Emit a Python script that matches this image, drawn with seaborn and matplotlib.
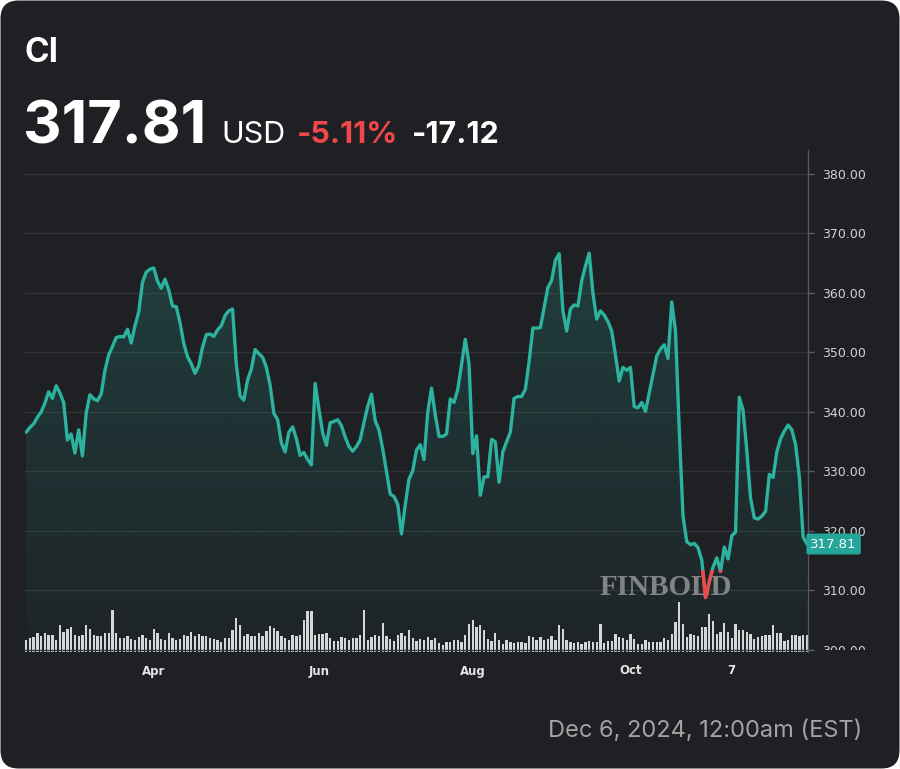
import numpy as np
import pandas as pd
import matplotlib
matplotlib.use("Agg")
import matplotlib.pyplot as plt
import seaborn as sns
from matplotlib.patches import FancyBboxPatch
from matplotlib.transforms import (IdentityTransform, blended_transform_factory,
                                   Bbox, offset_copy)

# ---------------- data ----------------
ticker = "CI"
last_price_text = "317.81"
currency = "USD"
change_pct = "-5.11%"
change_abs = "-17.12"
timestamp = "Dec 6, 2024, 12:00am (EST)"
watermark = "FINBOLD"

end_date = "2024-12-06"
holidays = ["2024-02-19", "2024-03-29", "2024-05-27", "2024-06-19",
            "2024-07-04", "2024-09-02", "2024-11-28"]

close = [
    336.6, 337.4, 338.0, 339.1, 340.0, 341.5, 343.4, 342.3, 344.4, 343.2,
    341.6, 335.3, 336.3, 333.1, 337.0, 332.6, 339.8, 342.9, 342.2, 341.9,
    343.0, 347.0, 349.6, 351.0, 352.5, 352.7, 352.6, 353.9, 351.6, 354.5,
    356.8, 361.8, 363.5, 364.0, 364.2, 362.0, 360.8, 362.3, 360.5, 357.8,
    357.7, 355.0, 351.5, 349.3, 348.1, 346.5, 347.8, 350.9, 353.0, 353.1,
    352.7, 353.8, 354.5, 356.2, 357.0, 357.3, 348.0, 342.7, 342.0, 345.4,
    347.2, 350.5, 349.8, 349.2, 347.5, 344.5, 339.8, 338.7, 334.8, 333.3,
    336.6, 337.5, 335.5, 332.7, 333.2, 332.0, 331.1, 344.8, 340.5, 336.5,
    334.4, 338.2, 338.4, 338.7, 337.7, 335.8, 334.2, 333.4, 334.2, 335.3,
    338.2, 340.9, 343.0, 338.5, 337.0, 333.8, 330.0, 326.2, 325.8, 324.5,
    319.5, 324.4, 328.7, 330.1, 333.6, 334.5, 332.0, 340.0, 344.0, 339.5,
    335.9, 335.9, 336.3, 342.2, 341.6, 343.8, 348.0, 352.2, 348.0, 333.0,
    336.0, 326.0, 329.1, 329.1, 335.4, 335.0, 328.2, 333.3, 335.0, 336.6,
    342.3, 342.6, 342.6, 343.8, 348.5, 354.1, 354.1, 354.2, 357.6, 360.9,
    362.1, 365.5, 366.6, 357.0, 353.6, 357.3, 358.0, 357.8, 362.0, 364.5,
    366.7, 360.0, 355.6, 357.0, 356.3, 355.2, 353.6, 349.6, 345.2, 347.5,
    347.0, 347.5, 340.9, 340.7, 341.6, 340.1, 343.2, 346.3, 349.4, 350.6,
    351.3, 349.0, 358.5, 353.6, 337.0, 322.5, 318.2, 317.7, 317.9, 317.2,
    315.1, 308.8, 311.5, 313.9, 315.5, 313.2, 317.3, 315.3, 319.2, 319.8,
    342.5, 340.3, 333.5, 325.5, 322.2, 322.0, 322.5, 323.3, 329.5, 329.0,
    333.3, 335.5, 336.8, 337.8, 337.0, 334.5, 329.0, 319.0, 317.81,
]

volume_m = [
    1.23, 1.40, 1.47, 1.90, 1.57, 1.90, 1.67, 1.67, 1.23, 2.67,
    1.97, 2.30, 2.50, 1.73, 1.57, 1.73, 2.73, 2.30, 1.73, 1.57,
    1.57, 1.90, 1.90, 4.23, 1.90, 1.40, 1.40, 1.57, 1.33, 1.23,
    1.50, 1.73, 1.40, 1.23, 2.33, 1.90, 1.33, 1.23, 1.90, 1.40,
    1.23, 1.30, 1.73, 1.57, 2.00, 1.57, 1.83, 1.57, 1.63, 1.40,
    1.33, 1.17, 1.00, 1.40, 1.40, 2.23, 3.40,
    2.67, 1.57, 1.80, 1.57, 1.63, 1.90, 1.57, 2.07, 2.57, 2.40,
    2.13, 1.57, 1.40, 1.17, 1.73, 1.57, 1.67, 3.23, 4.07, 4.07,
    1.73, 1.83, 1.83, 1.90, 1.40, 1.07, 1.07, 1.50, 1.40, 1.17,
    1.40, 1.40, 1.73, 4.23, 1.23, 1.50, 1.73, 1.57, 2.90, 1.63,
    1.30, 1.07, 1.73, 1.90, 1.57, 2.17, 1.40, 1.07, 1.30, 1.23,
    1.50, 1.23, 1.40, 0.90, 0.73, 1.00, 1.00,
    1.23, 1.17, 1.00, 1.67, 2.83, 3.17, 2.50, 2.67, 2.17, 1.33,
    1.10, 1.90, 1.23, 0.83, 1.17, 1.00, 0.90, 1.00, 1.00, 0.93,
    1.57, 1.50, 1.17, 1.50, 1.23, 1.33, 1.57, 1.23, 2.67, 2.33,
    1.23, 1.00, 0.90, 1.00, 0.83, 1.00, 1.10, 1.00, 1.00, 2.83,
    0.90, 1.10, 1.10, 1.83, 1.50, 1.43, 1.17, 1.83, 1.33, 0.83,
    0.83, 1.23, 1.00, 1.00, 1.00, 1.00, 1.43, 1.17, 1.83, 3.00,
    5.00, 2.83, 1.50, 1.83, 1.67, 1.57, 2.50, 2.50, 3.77, 3.10,
    1.83, 2.00, 2.93, 2.00, 1.43, 2.83, 2.23, 2.17, 2.00, 1.83,
    1.33, 1.50, 1.60, 1.67, 1.67, 2.67, 1.90, 1.90, 1.10, 1.23,
    1.67, 1.67, 1.57, 1.67, 1.67,
]

tick_dates = ["2024-04-01", "2024-06-03", "2024-08-01", "2024-10-01", "2024-11-07"]
tick_labels = ["Apr", "Jun", "Aug", "Oct", "7"]
y_ticks = [300, 310, 320, 330, 340, 350, 360, 370, 380]
baseline_value = 313.4   # line below this level is drawn red

# ---------------- frame ----------------
dates = pd.bdate_range(end=end_date, periods=len(close), freq="C", holidays=holidays)
df = pd.DataFrame({"date": dates, "session": np.arange(len(close)),
                   "close": close, "volume": volume_m})
tick_pos = [int(np.where(df["date"] == pd.Timestamp(d))[0][0]) for d in tick_dates]

BG = "#1e2024"
TEAL = "#2bb3a0"
RED = "#f0474a"
W, H = 900, 769

sns.set_theme(style="dark")
plt.rcParams["font.family"] = ["DejaVu Sans"]

fig = plt.figure(figsize=(W / 100, H / 100), dpi=100, facecolor="white")
card = FancyBboxPatch((0.5, 0.5), W - 1, H - 1,
                      boxstyle="round,pad=0,rounding_size=18",
                      transform=IdentityTransform(), facecolor=BG,
                      edgecolor="none", zorder=-10)
fig.add_artist(card)

ax_l, ax_r, ax_t, ax_b = 25, 808, 150, 652
ax = fig.add_axes([ax_l / W, (H - ax_b) / H, (ax_r - ax_l) / W, (ax_b - ax_t) / H])
ax2 = ax.twinx()
ax.set_zorder(ax2.get_zorder() + 1)
for a in (ax, ax2):
    a.patch.set_visible(False)

# volume bars
sns.barplot(data=df, x="session", y="volume", native_scale=True, orient="x",
            width=0.62, color="#dadada", saturation=1, errorbar=None,
            linewidth=0, ax=ax2)
ax2.set_ylim(0, 50.2)
ax2.set_yticks([])
ax2.set_ylabel("")
ax2.set_xlabel("")
for s in ax2.spines.values():
    s.set_visible(False)

ymin, ymax = 299.66, 384.03
xmin, xmax = -0.3, len(close) - 1 + 0.3

# gradient area under the line
fill = ax.fill_between(df["session"], df["close"], ymin, color="none", lw=0)
grad = np.zeros((256, 1, 4))
grad[..., :3] = matplotlib.colors.to_rgb(TEAL)
grad[:, 0, 3] = np.linspace(0.20, 0.03, 256)
im = ax.imshow(grad, extent=[xmin, xmax, ymin, max(close)], origin="upper",
               aspect="auto", zorder=2, interpolation="bilinear")
im.set_clip_path(fill.get_paths()[0], transform=ax.transData)

# price line
sns.lineplot(data=df, x="session", y="close", ax=ax, color=TEAL, linewidth=2.4,
             errorbar=None, zorder=4)
sns.lineplot(data=df, x="session", y="close", ax=ax, color=RED, linewidth=2.4,
             errorbar=None, zorder=5)
red_line = ax.lines[-1]
clip_rect = matplotlib.patches.Rectangle((xmin - 5, ymin - 20), xmax - xmin + 10,
                                         baseline_value - ymin + 20,
                                         transform=ax.transData)
red_line.set_clip_path(clip_rect)
for ln in ax.lines:
    ln.set_solid_joinstyle("round")
    ln.set_solid_capstyle("round")

ax.set_xlim(xmin, xmax)
ax2.set_xlim(xmin, xmax)
ax.set_ylim(ymin, ymax)
ax.set_xlabel("")
ax.set_ylabel("")

# axes styling
ax.yaxis.tick_right()
ax.set_yticks(y_ticks)
ax.set_yticklabels(["" if v == y_ticks[0] else f"{v:.2f}" for v in y_ticks])
ax.tick_params(axis="y", which="both", length=4, width=1, color="#5c5f64",
               labelcolor="#d2d2d2", labelsize=9, pad=6, right=True, left=False)
ax.set_xticks(tick_pos)
ax.set_xticklabels(tick_labels, fontweight="bold")
ax.tick_params(axis="x", length=0, labelcolor="#e4e4e4", labelsize=8.5, pad=9)
ax.grid(axis="y", color="#303338", linewidth=1)
ax.grid(axis="x", visible=False)
for name, s in ax.spines.items():
    s.set_visible(name == "right")
ax.spines["right"].set_color("#55585d")
ax.spines["right"].set_linewidth(1)

# lowest price label, cut by the pane edge as in the source
blend = blended_transform_factory(ax.transAxes, ax.transData)
low_lbl = ax.text(1.0, y_ticks[0], f"{y_ticks[0]:.2f}",
                  transform=offset_copy(blend, fig=fig, x=10, y=0, units="points"),
                  ha="left", va="center_baseline", color="#d2d2d2", fontsize=9)
low_lbl.set_clip_box(Bbox.from_extents(0, H - 650, W, H))
low_lbl.set_clip_on(True)

# last price label
ax.text(1.003, close[-1], last_price_text, transform=blend,
        ha="left", va="center", color="white", fontsize=9.5, zorder=10, clip_on=False,
        bbox=dict(boxstyle="round,pad=0.3,rounding_size=0.15", fc="#26a69a", ec="none"))

# watermark
ax.text(600, H - 595, watermark, transform=IdentityTransform(), ha="left", va="baseline",
        fontsize=21, fontweight="bold", family="Liberation Serif", color="#8e8e8e",
        alpha=0.9, zorder=3)

# header
tr = IdentityTransform()
fig.text(24, H - 62, ticker, transform=tr, fontsize=24, fontweight="bold",
         family="Inter", color="white", va="baseline")
fig.text(23, H - 143, last_price_text, transform=tr, fontsize=43, fontweight="bold",
         family="Inter", color="white", va="baseline")
fig.text(221, H - 143, currency, transform=tr, fontsize=22, family="Inter",
         color="white", va="baseline")
fig.text(297, H - 143, change_pct, transform=tr, fontsize=22, fontweight="bold",
         family="Inter", color=RED, va="baseline")
fig.text(412, H - 143, change_abs, transform=tr, fontsize=22, fontweight="bold",
         family="Inter", color="white", va="baseline")

# footer
fig.text(862, H - 737, timestamp, transform=tr, fontsize=17, family="Inter",
         color="#a3a3a3", ha="right", va="baseline")

fig.savefig("out.png", dpi=100, facecolor=fig.get_facecolor())
